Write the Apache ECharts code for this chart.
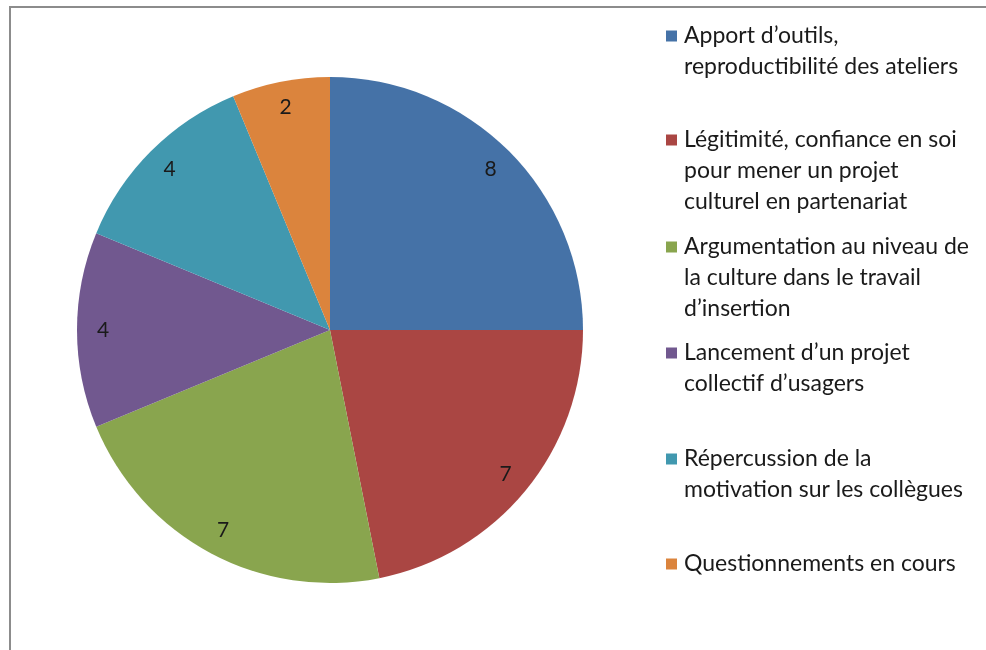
<!DOCTYPE html>
<html>
<head>
<meta charset="utf-8">
<script src="https://cdn.jsdelivr.net/npm/echarts@6/dist/echarts.min.js"></script>
<style>
html,body{margin:0;padding:0;background:#fff;}
#chart{width:986px;height:650px;}
</style>
</head>
<body>
<div id="chart"></div>
<script>
const categories = [
  "Apport d’outils, reproductibilité des ateliers",
  "Légitimité, confiance en soi pour mener un projet culturel en partenariat",
  "Argumentation au niveau de la culture dans le travail d’insertion",
  "Lancement d’un projet collectif d’usagers",
  "Répercussion de la motivation sur les collègues",
  "Questionnements en cours"
];
const legendLines = [
  ["Apport d’outils,", "reproductibilité des ateliers"],
  ["Légitimité, confiance en soi", "pour mener un projet", "culturel en partenariat"],
  ["Argumentation au niveau de", "la culture dans le travail", "d’insertion"],
  ["Lancement d’un projet", "collectif d’usagers"],
  ["Répercussion de la", "motivation sur les collègues"],
  ["Questionnements en cours"]
];
const values = [8, 7, 7, 4, 4, 2];
const colors = ["#4572A7", "#AA4643", "#89A54E", "#71588F", "#4198AF", "#DB843D"];

const FONT = "Lato, 'Open Sans', sans-serif";
const LH = 31;
const legendFirstLineY = [36, 140, 247, 353, 459, 564];

const chart = echarts.init(document.getElementById('chart'), null, {renderer: 'canvas'});

const data = categories.map((c, i) => ({name: c, value: values[i], itemStyle: {color: colors[i]}}));

const rich = {
  t: {fontFamily: FONT, fontSize: 23, color: '#1a1a1a', lineHeight: LH},
  pad: {width: 18, height: 11, lineHeight: LH}
};
colors.forEach((c, i) => {
  rich['sq' + i] = {width: 11, height: 11, backgroundColor: c, verticalAlign: 'middle', lineHeight: LH};
  rich['gap' + i] = {width: 7, height: 11, lineHeight: LH};
});

const legends = categories.map((c, i) => ({
  data: [c],
  orient: 'vertical',
  left: 661,
  top: legendFirstLineY[i] - LH / 2,
  padding: 0,
  itemWidth: 0,
  itemHeight: 0,
  icon: 'rect',
  selectedMode: false,
  textStyle: {rich: rich, lineHeight: LH},
  formatter: function () {
    return legendLines[i].map((l, k) =>
      (k === 0 ? '{sq' + i + '|}{gap' + i + '|}' : '{pad|}') + '{t|' + l + '}'
    ).join('\n');
  }
}));

chart.setOption({
  animation: false,
  backgroundColor: '#ffffff',
  legend: legends,
  graphic: [{
    type: 'rect',
    shape: {x: 10, y: 7, width: 1200, height: 900},
    style: {fill: 'none', stroke: '#8c8c8c', lineWidth: 2},
    silent: true
  }],
  series: [
    {
      type: 'pie',
      center: [330, 330],
      radius: [0, 253],
      startAngle: 90,
      clockwise: true,
      silent: true,
      label: {show: false},
      labelLine: {show: false},
      data: data
    },
    {
      type: 'pie',
      center: [330, 330],
      radius: [195, 253],
      startAngle: 90,
      clockwise: true,
      silent: true,
      itemStyle: {color: 'rgba(0,0,0,0)', borderWidth: 0},
      label: {
        show: true,
        position: 'inside',
        formatter: '{c}',
        fontFamily: FONT,
        fontSize: 21,
        color: '#1a1a1a'
      },
      labelLine: {show: false},
      data: categories.map((c, i) => ({name: c, value: values[i]}))
    }
  ]
});
</script>
</body>
</html>
